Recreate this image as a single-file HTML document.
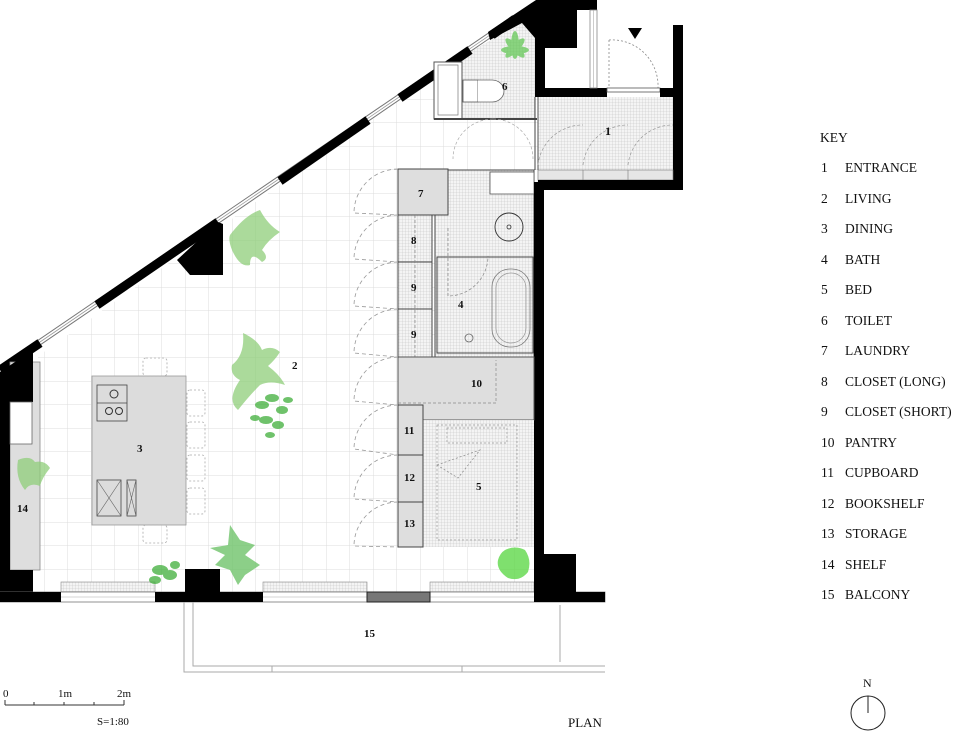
<!DOCTYPE html>
<html><head><meta charset="utf-8"><style>
html,body{margin:0;padding:0;background:#fff}
svg{display:block}
text{font-family:"Liberation Serif",serif;fill:#111}
</style></head><body>
<svg width="960" height="731" viewBox="0 0 960 731" xmlns="http://www.w3.org/2000/svg">
<defs>
<pattern id="grid" x="44" y="5" width="23.5" height="23.5" patternUnits="userSpaceOnUse">
<path d="M0 0V23.5M0 0H23.5" stroke="#dcdcdc" stroke-width="1" fill="none"/>
</pattern>
<pattern id="hatch" width="3" height="3" patternUnits="userSpaceOnUse">
<rect width="3" height="3" fill="#f4f4f4"/>
<path d="M0 0V3M0 0H3" stroke="#c4c4c4" stroke-width="0.6"/>
</pattern>
<clipPath id="floor"><polygon points="38,356 530,8 540,8 540,592 38,592"/></clipPath>
</defs>

<g clip-path="url(#floor)"><rect x="0" y="0" width="600" height="600" fill="url(#grid)"/></g>

<!-- toilet floor -->
<polygon points="462,56 522,23 535,38 535,118 462,118" fill="url(#hatch)"/>

<!-- diagonal wall -->
<line x1="18" y1="357" x2="534" y2="5" stroke="#777" stroke-width="6"/>
<line x1="18" y1="357" x2="534" y2="5" stroke="#fff" stroke-width="4"/>
<line x1="18" y1="357" x2="534" y2="5" stroke="#999" stroke-width="0.8"/>
<g stroke="#000" stroke-width="9" stroke-linecap="butt">
<line x1="0" y1="370" x2="40" y2="343"/>
<line x1="97" y1="305" x2="218" y2="222"/>
<line x1="280" y1="181" x2="368" y2="120"/>
<line x1="400" y1="98" x2="470" y2="50"/>
<line x1="492" y1="35" x2="515" y2="19"/>
</g>
<polygon points="177,260 218,222 223,224 223,275 190,275" fill="#000"/>

<!-- top block -->
<path d="M488 32 L536 0 L597 0 L597 10 L577 10 L577 48 L545 48 L545 88 L607 88 L607 97 L535 97 L535 38 L522 23 L490 40 Z" fill="#000"/>
<rect x="590" y="10" width="7" height="78" fill="#fff" stroke="#888" stroke-width="0.8"/>
<line x1="593.5" y1="10" x2="593.5" y2="88" stroke="#aaa" stroke-width="0.6"/>
<!-- entrance door -->
<polygon points="628,28 642,28 635,39" fill="#000"/>
<path d="M609 40 A 46 46 0 0 1 658 88" fill="none" stroke="#888" stroke-dasharray="2,2" stroke-width="0.8"/>
<line x1="609" y1="40" x2="609" y2="88" stroke="#888" stroke-dasharray="2,2" stroke-width="0.8"/>
<rect x="607" y="88" width="53" height="4" fill="#fff" stroke="#555" stroke-width="0.8"/>
<rect x="660" y="88" width="23" height="10" fill="#000"/>
<rect x="673" y="25" width="10" height="165" fill="#000"/>
<rect x="538" y="97" width="135" height="73" fill="url(#hatch)"/>
<rect x="538" y="170" width="135" height="10" fill="#e6e6e6" stroke="#777" stroke-width="0.6"/>
<line x1="583" y1="170" x2="583" y2="180" stroke="#777" stroke-width="0.6"/><line x1="628" y1="170" x2="628" y2="180" stroke="#777" stroke-width="0.6"/>
<rect x="538" y="180" width="145" height="10" fill="#000"/>
<line x1="538" y1="97" x2="538" y2="170" stroke="#555" stroke-width="1"/>
<path d="M538 165 A 45 45 0 0 1 583 125 M583 165 A45 45 0 0 1 628 125 M628 165 A45 45 0 0 1 673 125" fill="none" stroke="#999" stroke-dasharray="3,2" stroke-width="0.7"/>
<text x="605" y="135" font-size="12" font-weight="bold">1</text>

<!-- toilet -->
<rect x="434" y="62" width="28" height="57" fill="#fff" stroke="#555" stroke-width="1"/>
<rect x="438" y="65" width="20" height="50" fill="none" stroke="#777" stroke-width="0.7"/>
<rect x="463" y="80" width="15" height="22" fill="#fff" stroke="#555" stroke-width="0.8"/>
<path d="M478 80 L492 80 A 12 11 0 0 1 492 102 L478 102" fill="#fff" stroke="#666" stroke-width="0.8"/>
<line x1="434" y1="119" x2="537" y2="119" stroke="#444" stroke-width="2"/>
<line x1="535" y1="97" x2="535" y2="170" stroke="#444" stroke-width="1"/>
<text x="502" y="90" font-size="11" font-weight="bold">6</text>
<path d="M493 119 A 40 40 0 0 0 453 159 M493 119 A 40 40 0 0 1 533 159" fill="none" stroke="#aaa" stroke-dasharray="3,2" stroke-width="0.7"/>

<!-- bath -->
<rect x="435" y="170" width="99" height="187" fill="url(#hatch)" stroke="#444" stroke-width="1"/>
<rect x="490" y="172" width="44" height="22" fill="#fff" stroke="#555" stroke-width="0.8"/>
<rect x="437" y="257" width="96" height="96" fill="none" stroke="#444" stroke-width="1"/>
<circle cx="509" cy="227" r="14" fill="none" stroke="#333" stroke-width="0.9"/>
<circle cx="509" cy="227" r="2" fill="none" stroke="#333" stroke-width="0.8"/>
<rect x="492" y="269" width="38" height="78" rx="18" fill="none" stroke="#777" stroke-width="0.8"/>
<rect x="496" y="273" width="30" height="70" rx="15" fill="none" stroke="#999" stroke-width="0.7"/>
<circle cx="469" cy="338" r="4" fill="none" stroke="#666" stroke-width="0.8"/>
<path d="M448 228 L448 296 A 40 40 0 0 0 488 256" fill="none" stroke="#888" stroke-dasharray="3,2" stroke-width="0.7"/>
<text x="458" y="308" font-size="11" font-weight="bold">4</text>
<rect x="534" y="182" width="10" height="420" fill="#000"/>

<!-- closets -->
<rect x="398" y="169" width="50" height="46" fill="#dedede" stroke="#444" stroke-width="1"/>
<text x="418" y="197" font-size="11" font-weight="bold">7</text>
<rect x="398" y="215" width="34" height="47" fill="url(#hatch)" stroke="#444" stroke-width="1"/>
<rect x="398" y="262" width="34" height="47" fill="url(#hatch)" stroke="#444" stroke-width="1"/>
<rect x="398" y="309" width="34" height="48" fill="url(#hatch)" stroke="#444" stroke-width="1"/>
<line x1="415" y1="215" x2="415" y2="357" stroke="#888" stroke-dasharray="3,2" stroke-width="0.7"/>
<text x="411" y="244" font-size="11" font-weight="bold">8</text>
<text x="411" y="291" font-size="11" font-weight="bold">9</text>
<text x="411" y="338" font-size="11" font-weight="bold">9</text>
<rect x="398" y="357" width="136" height="63" fill="#dedede" stroke="#555" stroke-width="1"/>
<path d="M398 403 L496 403 L496 360" fill="none" stroke="#888" stroke-dasharray="3,2" stroke-width="0.7"/>
<text x="471" y="387" font-size="11" font-weight="bold">10</text>
<rect x="423" y="420" width="111" height="127" fill="url(#hatch)"/>
<rect x="437" y="425" width="80" height="115" fill="none" stroke="#999" stroke-dasharray="2,2" stroke-width="0.7"/>
<rect x="447" y="428" width="60" height="15" fill="none" stroke="#999" stroke-dasharray="2,2" stroke-width="0.7"/>
<path d="M437 465 L480 450 L458 478 Z" fill="none" stroke="#888" stroke-dasharray="2,2" stroke-width="0.7"/>
<text x="476" y="490" font-size="11" font-weight="bold">5</text>
<rect x="398" y="405" width="25" height="50" fill="#dedede" stroke="#444" stroke-width="1"/>
<rect x="398" y="455" width="25" height="47" fill="#dedede" stroke="#444" stroke-width="1"/>
<rect x="398" y="502" width="25" height="45" fill="#dedede" stroke="#444" stroke-width="1"/>
<text x="404" y="434" font-size="11" font-weight="bold">11</text>
<text x="404" y="481" font-size="11" font-weight="bold">12</text>
<text x="404" y="527" font-size="11" font-weight="bold">13</text>
<g fill="none" stroke="#999" stroke-dasharray="4,3" stroke-width="0.8">
<path d="M398 169 A 44 44 0 0 0 354 213 L398 215"/>
<path d="M398 215 A 44 44 0 0 0 354 259 L398 262"/>
<path d="M398 262 A 44 44 0 0 0 354 306 L398 309"/>
<path d="M398 309 A 44 44 0 0 0 354 353 L398 357"/>
<path d="M398 357 A 44 44 0 0 0 354 401 L398 405"/>
<path d="M398 405 A 44 44 0 0 0 354 449 L398 455"/>
<path d="M398 455 A 44 44 0 0 0 354 499 L398 502"/>
<path d="M398 502 A 44 44 0 0 0 354 546 L398 547"/>
</g>

<!-- left wall & shelf -->
<rect x="10" y="362" width="30" height="208" fill="#dedede" stroke="#888" stroke-width="0.8"/>
<polygon points="0,372 33,350 33,402 10,402 10,570 33,570 33,600 0,600" fill="#000"/>
<rect x="10" y="402" width="22" height="42" fill="#fff" stroke="#666" stroke-width="0.8"/>
<text x="17" y="512" font-size="11" font-weight="bold">14</text>

<!-- island -->
<rect x="92" y="376" width="94" height="149" fill="#dcdcdc" stroke="#999" stroke-width="0.8"/>
<rect x="97" y="385" width="30" height="36" fill="none" stroke="#444" stroke-width="0.8"/>
<line x1="97" y1="403" x2="127" y2="403" stroke="#444" stroke-width="0.8"/>
<circle cx="114" cy="394" r="4" fill="none" stroke="#333"/><circle cx="109" cy="411" r="3.5" fill="none" stroke="#333"/><circle cx="119" cy="411" r="3.5" fill="none" stroke="#333"/>
<rect x="97" y="480" width="24" height="36" fill="none" stroke="#444" stroke-width="0.8"/>
<path d="M97 480 L121 516 M121 480 L97 516" stroke="#666" stroke-width="0.6"/>
<rect x="127" y="480" width="9" height="36" fill="none" stroke="#444" stroke-width="0.8"/>
<path d="M127 480 L136 516 M136 480 L127 516" stroke="#666" stroke-width="0.6"/>
<text x="137" y="452" font-size="11" font-weight="bold">3</text>
<g fill="none" stroke="#aaa" stroke-dasharray="2,2" stroke-width="0.8">
<rect x="143" y="358" width="24" height="18" rx="3"/>
<rect x="143" y="525" width="24" height="18" rx="3"/>
<rect x="187" y="390" width="18" height="26" rx="3"/>
<rect x="187" y="422" width="18" height="26" rx="3"/>
<rect x="187" y="455" width="18" height="26" rx="3"/>
<rect x="187" y="488" width="18" height="26" rx="3"/>
</g>
<text x="292" y="369" font-size="11" font-weight="bold">2</text>

<!-- bottom wall -->
<rect x="61" y="582" width="94" height="10" fill="url(#hatch)" stroke="#888" stroke-width="0.6"/>
<rect x="263" y="582" width="104" height="10" fill="url(#hatch)" stroke="#888" stroke-width="0.6"/>
<rect x="430" y="582" width="104" height="10" fill="url(#hatch)" stroke="#888" stroke-width="0.6"/>
<rect x="0" y="592" width="605" height="10" fill="#fff" stroke="#777" stroke-width="0.8"/>
<line x1="0" y1="597" x2="605" y2="597" stroke="#aaa" stroke-width="0.6"/>
<rect x="0" y="592" width="61" height="10" fill="#000"/>
<rect x="155" y="592" width="108" height="10" fill="#000"/>
<rect x="185" y="569" width="35" height="25" fill="#000"/>
<rect x="367" y="592" width="63" height="10" fill="#777" stroke="#222" stroke-width="1"/>
<rect x="534" y="592" width="71" height="10" fill="#000"/>
<rect x="534" y="554" width="42" height="40" fill="#000"/>

<!-- balcony -->
<g fill="none" stroke="#aaa" stroke-width="1">
<path d="M184 602 V672 H605"/>
<path d="M193 602 V666 H605"/>
<line x1="560" y1="605" x2="560" y2="662"/>
<line x1="272" y1="666" x2="272" y2="672"/>
<line x1="462" y1="666" x2="462" y2="672"/>
</g>
<text x="364" y="637" font-size="11" font-weight="bold">15</text>

<!-- plants -->
<g fill="#8fce7a" opacity="0.75">
<path d="M230 235 Q245 215 260 210 Q268 225 280 232 Q268 240 262 250 Q270 258 262 262 Q250 250 250 265 Q240 268 232 250 Q228 240 230 235Z"/>
<path d="M243 333 Q258 340 262 350 Q272 345 280 352 Q275 360 268 366 Q280 375 285 385 Q270 380 260 385 Q250 395 238 410 Q226 400 240 380 Q230 375 232 365 Q245 355 243 333Z"/>
<path d="M18 460 Q30 455 35 462 Q45 460 50 468 Q42 478 40 486 Q30 482 25 490 Q15 478 18 460Z"/>
</g>
<g fill="#5cc64e" opacity="0.7">
<ellipse cx="515" cy="45" rx="4" ry="14"/><ellipse cx="515" cy="50" rx="14" ry="4"/>
<ellipse cx="515" cy="48" rx="4" ry="13" transform="rotate(45 515 48)"/><ellipse cx="515" cy="48" rx="4" ry="13" transform="rotate(-45 515 48)"/>
</g>
<g fill="#3fae3a" opacity="0.75">
<ellipse cx="262" cy="405" rx="7" ry="4"/><ellipse cx="272" cy="398" rx="7" ry="4"/><ellipse cx="282" cy="410" rx="6" ry="4"/><ellipse cx="266" cy="420" rx="7" ry="4"/><ellipse cx="278" cy="425" rx="6" ry="4"/><ellipse cx="255" cy="418" rx="5" ry="3"/><ellipse cx="288" cy="400" rx="5" ry="3"/><ellipse cx="270" cy="435" rx="5" ry="3"/>
<ellipse cx="160" cy="570" rx="8" ry="5"/><ellipse cx="170" cy="575" rx="7" ry="5"/><ellipse cx="155" cy="580" rx="6" ry="4"/><ellipse cx="175" cy="565" rx="5" ry="4"/>
</g>
<g fill="#6fc36a" opacity="0.8">
<path d="M230 525 L240 540 L255 545 L245 555 L260 565 L245 575 L238 585 L230 570 L215 565 L225 555 L210 548 L228 545Z"/>
<path d="M505 550 Q515 545 525 550 Q532 560 528 572 Q520 582 508 578 Q496 570 498 560 Q500 553 505 550Z" fill="#5fd84a"/>
</g>

<!-- key -->
<g font-size="13.5">
<text x="820" y="142">KEY</text>
<text x="821" y="172">1</text><text x="845" y="172">ENTRANCE</text>
<text x="821" y="203">2</text><text x="845" y="203">LIVING</text>
<text x="821" y="233">3</text><text x="845" y="233">DINING</text>
<text x="821" y="264">4</text><text x="845" y="264">BATH</text>
<text x="821" y="294">5</text><text x="845" y="294">BED</text>
<text x="821" y="325">6</text><text x="845" y="325">TOILET</text>
<text x="821" y="355">7</text><text x="845" y="355">LAUNDRY</text>
<text x="821" y="386">8</text><text x="845" y="386">CLOSET (LONG)</text>
<text x="821" y="416">9</text><text x="845" y="416">CLOSET (SHORT)</text>
<text x="821" y="447">10</text><text x="845" y="447">PANTRY</text>
<text x="821" y="477">11</text><text x="845" y="477">CUPBOARD</text>
<text x="821" y="508">12</text><text x="845" y="508">BOOKSHELF</text>
<text x="821" y="538">13</text><text x="845" y="538">STORAGE</text>
<text x="821" y="569">14</text><text x="845" y="569">SHELF</text>
<text x="821" y="599">15</text><text x="845" y="599">BALCONY</text>
</g>

<g font-size="11">
<text x="3" y="697">0</text><text x="58" y="697">1m</text><text x="117" y="697">2m</text>
<text x="97" y="725">S=1:80</text>
<text x="568" y="727" font-size="13">PLAN</text>
<text x="863" y="687" font-size="12">N</text>
</g>
<path d="M5 705 H124 M5 700 V705 M34 702 V705 M64 702 V705 M94 702 V705 M124 700 V705" stroke="#333" stroke-width="1" fill="none"/>
<ellipse cx="868" cy="713" rx="17" ry="17" fill="none" stroke="#222" stroke-width="1"/>
<line x1="868" y1="696" x2="868" y2="713" stroke="#222" stroke-width="1"/>
</svg>
</body></html>
